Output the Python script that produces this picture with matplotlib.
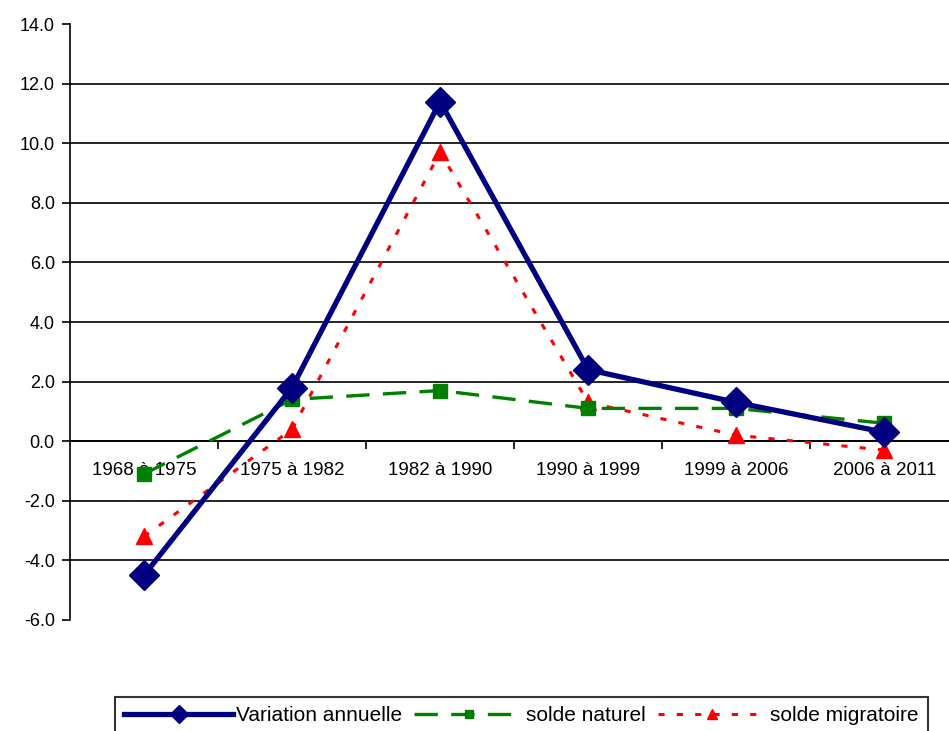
import numpy as np
import matplotlib.pyplot as plt

periods = ["1968 à 1975", "1975 à 1982", "1982 à 1990", "1990 à 1999", "1999 à 2006", "2006 à 2011"]
variation = [-4.5, 1.8, 11.4, 2.4, 1.3, 0.3]
naturel = [-1.1, 1.4, 1.7, 1.1, 1.1, 0.6]
migratoire = [-3.2, 0.4, 9.7, 1.3, 0.2, -0.3]

plt.rcParams['font.family'] = ['Liberation Sans', 'DejaVu Sans']

fig = plt.figure(figsize=(9.49, 7.31), dpi=100)
ax = fig.add_axes([0.0738, 0.152, 0.936, 0.815])

x = np.arange(len(periods))

ax.plot(x, variation, color="#000080", lw=3.8, marker="D", ms=15, zorder=5,
        label="Variation annuelle")
ax.plot(x, naturel, color="#008000", lw=2.4, ls=(0, (7, 4)), marker="s", ms=10, zorder=4,
        label="solde naturel")
ax.plot(x, migratoire, color="#ff0000", lw=2.2, ls=(0, (2, 4)), marker="^", ms=11, zorder=3,
        label="solde migratoire")

ax.set_xlim(-0.5, len(periods) - 0.5)
ax.set_ylim(-6, 14)
ax.set_yticks(np.arange(-6, 15, 2))
ax.set_yticklabels([f"{v:.1f}" for v in np.arange(-6, 15, 2)], fontsize=13)
for v in range(-4, 14, 2):
    ax.axhline(v, color="black", lw=1.2, zorder=1)

ax.spines["top"].set_visible(False)
ax.spines["right"].set_visible(False)
ax.spines["bottom"].set_position(("data", 0))
ax.spines["left"].set_linewidth(1.2)
ax.spines["bottom"].set_linewidth(1.2)
ax.tick_params(axis="y", direction="out", length=6, width=1.2, pad=5)

ax.set_xticks(x)
ax.set_xticklabels(periods, fontsize=13.5)
ax.tick_params(axis="x", length=0, pad=15)
ax.set_xticks(x[:-1] + 0.5, minor=True)
ax.tick_params(axis="x", which="minor", direction="out", length=6, width=1.2)

leg = fig.legend(loc="upper left", bbox_to_anchor=(115 / 949, 1 - 697 / 731), ncol=3, fontsize=15,
                 frameon=True, fancybox=False, edgecolor="black", handlelength=5.2,
                 columnspacing=0.6, handletextpad=0.15, borderpad=0.45, borderaxespad=0,
                 markerscale=0.6)
leg.get_frame().set_linewidth(1.5)

fig.savefig("out.png", dpi=100)
